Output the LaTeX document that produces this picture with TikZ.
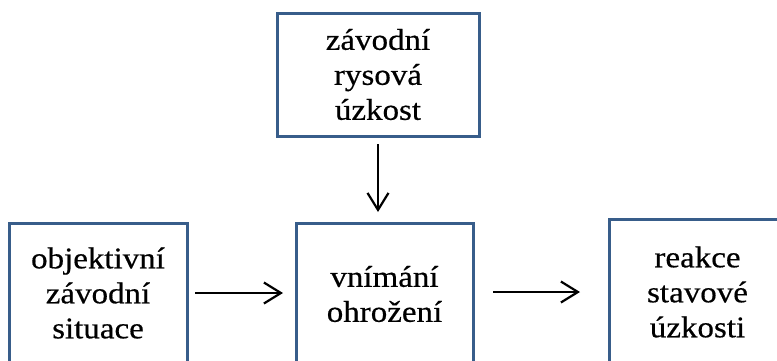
\documentclass[tikz,border=0pt]{standalone}
\usepackage{fontspec}
\setmainfont{Liberation Serif}[FakeStretch=1.1,FakeBold=0.5]
\usetikzlibrary{arrows.meta}
\definecolor{boxblue}{RGB}{56,93,138}
\begin{document}
\begin{tikzpicture}[x=1pt,y=-1pt,
  boxnode/.style={draw=boxblue, line width=3pt, rectangle, outer sep=0pt, inner sep=0pt,
    align=center, font=\fontsize{30}{35}\selectfont},
  arr/.style={line width=2pt, -{Straight Barb[length=17pt,width=21pt,line width=2.2pt]}}]
\useasboundingbox (0,0) rectangle (777,360);
\clip (0,0) rectangle (777,360);
\node[boxnode, minimum width=202pt, minimum height=123pt] (top) at (378,74.5) {závodní\\rysová\\úzkost};
\node[boxnode, minimum width=178pt, minimum height=140pt] (left) at (98,293) {objektivní\\závodní\\situace};
\node[boxnode, minimum width=177pt, minimum height=142pt] (mid) at (384.5,294) {vnímání\\ohrožení};
\node[boxnode, minimum width=177pt, minimum height=146pt] (right) at (697.5,292) {reakce\\stavové\\úzkosti};
\draw[arr, shorten <=8pt, shorten >=13pt] (left.east) -- (left.east -| mid.west);
\draw[arr, shorten <=20pt, shorten >=29pt] (right.west -| mid.east) -- (right.west);
\draw[arr, shorten <=8pt, shorten >=11pt] (top.south) -- (top.south |- mid.north);
\end{tikzpicture}
\end{document}
